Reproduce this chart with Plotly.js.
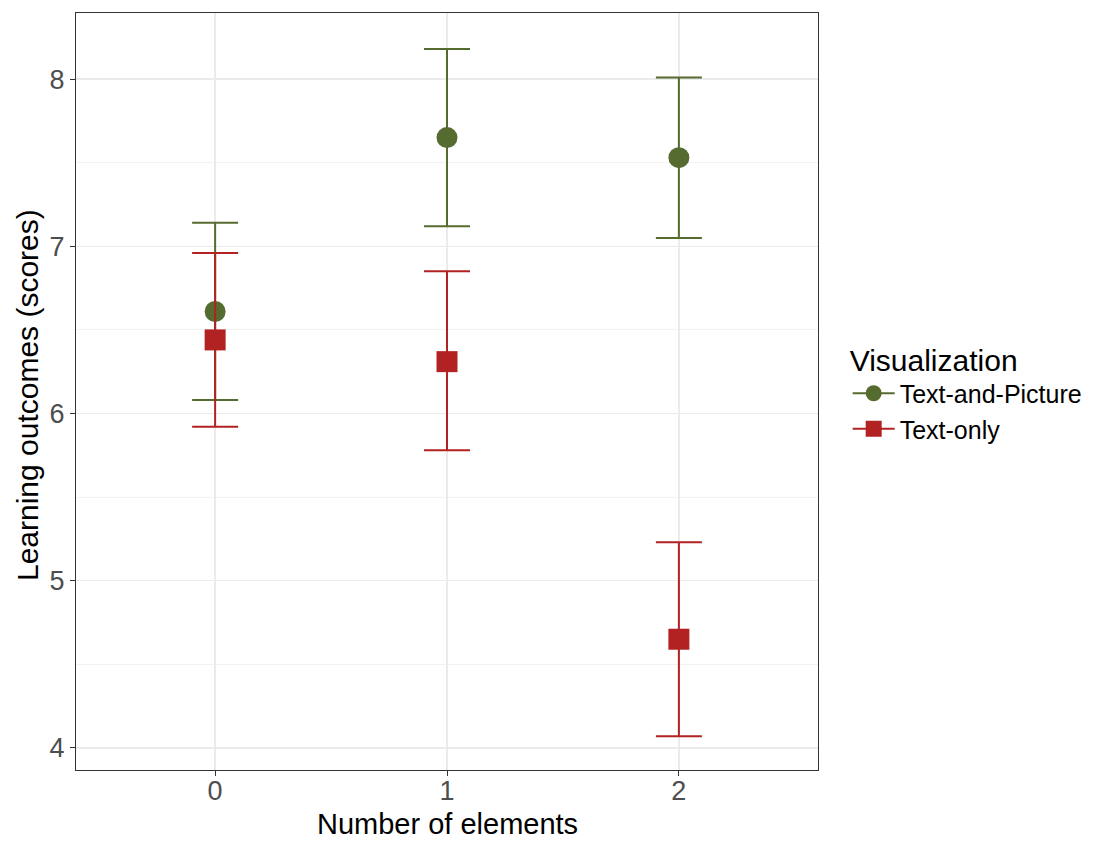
<!DOCTYPE html>
<html>
<head>
<meta charset="utf-8">
<script src="https://cdn.plot.ly/plotly-3.0.1.min.js"></script>
<style>html,body{margin:0;padding:0;background:#fff;}#chart{width:1100px;height:841px;}</style>
</head>
<body>
<div id="chart"></div>
<script>
const categories = [0, 1, 2];
const tickLabels = ["0", "1", "2"];
const seriesNames = ["Text-and-Picture", "Text-only"];
const picMean = [6.61, 7.65, 7.53];
const picUpper = [7.14, 8.18, 8.01];
const picLower = [6.08, 7.12, 7.05];
const textMean = [6.44, 6.31, 4.65];
const textUpper = [6.96, 6.85, 5.23];
const textLower = [5.92, 5.78, 4.07];
const xTitle = "Number of elements";
const yTitle = "Learning outcomes (scores)";

const colors = ["#556B2F", "#B22222"];
const symbols = ["circle", "square"];

function mkTrace(i, mean, upper, lower) {
  return {
    type: "scatter", mode: "markers", name: seriesNames[i], showlegend: false,
    x: categories, y: mean,
    marker: {color: colors[i], size: 21, symbol: symbols[i]},
    error_y: {
      type: "data", symmetric: false,
      array: upper.map((u, k) => u - mean[k]),
      arrayminus: mean.map((m, k) => m - lower[k]),
      color: colors[i], thickness: 2, width: 23
    },
    hoverinfo: "x+y"
  };
}
function legendTrace(i) {
  return {
    type: "scatter", mode: "lines+markers", name: seriesNames[i],
    x: [null], y: [null], showlegend: true,
    line: {color: colors[i], width: 2},
    marker: {color: colors[i], size: 20, symbol: symbols[i]}
  };
}

const data = [
  mkTrace(0, picMean, picUpper, picLower),
  mkTrace(1, textMean, textUpper, textLower),
  legendTrace(0), legendTrace(1)
];

const fontFam = "Liberation Sans, Arial, sans-serif";
const layout = {
  width: 1100, height: 841,
  margin: {l: 76, r: 282, t: 13, b: 71},
  paper_bgcolor: "#fff", plot_bgcolor: "#fff",
  font: {family: fontFam, color: "#000"},
  xaxis: {
    range: [-0.6, 2.6], tickvals: categories, ticktext: tickLabels,
    showgrid: true, gridcolor: "#EBEBEB", gridwidth: 1.5, zeroline: false,
    ticks: "outside", ticklen: 5, tickcolor: "#333", tickwidth: 1,
    ticklabelstandoff: -8,
    tickfont: {size: 27, color: "#4D4D4D", family: fontFam},
    showline: true, linecolor: "#333", linewidth: 1, mirror: true,
    automargin: false
  },
  yaxis: {
    range: [3.868, 8.395], tickvals: [4, 5, 6, 7, 8],
    showgrid: true, gridcolor: "#EBEBEB", gridwidth: 1.5, zeroline: false,
    minor: {tickvals: [4.5, 5.5, 6.5, 7.5], showgrid: true, gridcolor: "#F2F2F2", gridwidth: 1, ticks: ""},
    ticks: "outside", ticklen: 5, tickcolor: "#333", tickwidth: 1,
    tickfont: {size: 27, color: "#4D4D4D", family: fontFam},
    showline: true, linecolor: "#333", linewidth: 1, mirror: true,
    automargin: false
  },
  annotations: [
    {text: xTitle, xref: "paper", yref: "paper", x: 0.5, y: -0.0935, xanchor: "center", yanchor: "bottom",
     borderpad: 0, showarrow: false, font: {size: 29, color: "#000", family: fontFam}},
    {text: yTitle, xref: "paper", yref: "paper", x: -0.065, y: 0.495, xanchor: "center", yanchor: "middle",
     borderpad: 0, textangle: -90, showarrow: false, font: {size: 30, color: "#000", family: fontFam}}
  ],
  legend: {
    x: 1.04, xanchor: "left", y: 0.5, yanchor: "middle",
    title: {text: "Visualization", font: {size: 30, color: "#000", family: fontFam}},
    font: {size: 25, color: "#000", family: fontFam},
    bgcolor: "rgba(0,0,0,0)", itemwidth: 42, tracegroupgap: 0
  },
  showlegend: true
};

Plotly.newPlot("chart", data, layout, {displayModeBar: false, staticPlot: true});
</script>
</body>
</html>
